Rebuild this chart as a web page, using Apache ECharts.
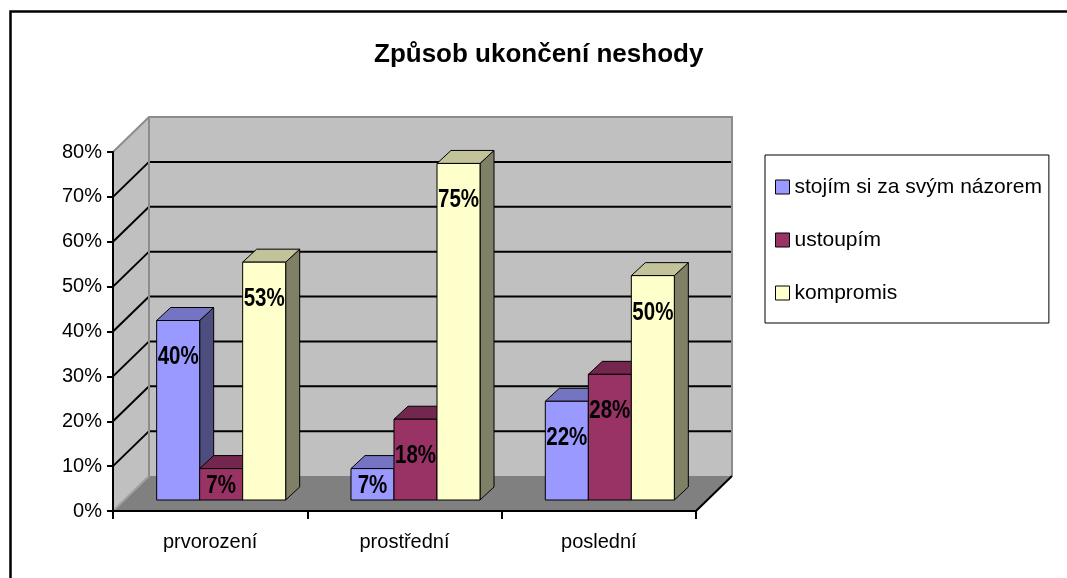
<!DOCTYPE html>
<html>
<head>
<meta charset="utf-8">
<script src="https://cdn.jsdelivr.net/npm/echarts@6/dist/echarts.min.js"></script>
<style>
html,body{margin:0;padding:0;background:#fff;}
#chart{width:1067px;height:578px;}
</style>
</head>
<body>
<div id="chart"></div>
<script>
// ---- data ----
const categories = ['prvorození', 'prostřední', 'poslední'];
const seriesNames = ['stojím si za svým názorem', 'ustoupím', 'kompromis'];
const stojim = [40, 7, 22];
const ustoupim = [7, 18, 28];
const kompromis = [53, 75, 50];
const yTicks = [0, 10, 20, 30, 40, 50, 60, 70, 80];
const titleText = 'Způsob ukončení neshody';

// ---- style ----
const SANS = '"Liberation Sans", Arial, sans-serif';
const colors = ['#9999FF', '#993366', '#FFFFCC'];
const DEPTH = { x: 36, y: -35 };     // wall depth offset
const BOFF = { x: 11, y: -11 };      // bar front-face offset
const BD = { x: 14, y: -13 };        // bar depth
const BAR_FRAC = 0.2213;

function shade(hex, f) {
  const n = parseInt(hex.slice(1), 16);
  const r = Math.round(((n >> 16) & 255) * f), g = Math.round(((n >> 8) & 255) * f), b = Math.round((n & 255) * f);
  return 'rgb(' + r + ',' + g + ',' + b + ')';
}

function barRenderer(k) {
  return function (params, api) {
    const c = api.value(0), v = api.value(1);
    const base = api.coord([c, 0]);
    const top = api.coord([c, v]);
    const band = api.size([1, 0])[0];
    const bw = band * BAR_FRAC;
    const xl = base[0] + BOFF.x + (k - 1.5) * bw;
    const xr = xl + bw;
    const yb = base[1] + BOFF.y;
    const yt = top[1] + BOFF.y;
    const col = colors[k];
    const h = yb - yt;
    const ly = h < 72 ? (yt + yb) / 2 + 2 : yt + 37;
    return {
      type: 'group',
      children: [
        { type: 'polygon', shape: { points: [[xr, yt], [xr + BD.x, yt + BD.y], [xr + BD.x, yb + BD.y], [xr, yb]] },
          style: { fill: shade(col, 0.5), stroke: '#000', lineWidth: 1 } },
        { type: 'polygon', shape: { points: [[xl, yt], [xr, yt], [xr + BD.x, yt + BD.y], [xl + BD.x, yt + BD.y]] },
          style: { fill: shade(col, 0.76), stroke: '#000', lineWidth: 1 } },
        { type: 'rect', shape: { x: xl, y: yt, width: bw, height: h },
          style: { fill: col, stroke: '#000', lineWidth: 1 } },
        { type: 'text', x: (xl + xr) / 2, y: ly, scaleX: 0.82, z2: 10,
          style: { text: v + '%', fill: '#000', font: 'bold 25px ' + SANS, align: 'center', verticalAlign: 'middle' } }
      ]
    };
  };
}

function frameRenderer(params, api) {
  const n = categories.length;
  const band = api.size([1, 0])[0];
  const x0 = api.coord([0, 0])[0] - band / 2;
  const x1 = api.coord([n - 1, 0])[0] + band / 2;
  const yMin = yTicks[0], yMax = yTicks[yTicks.length - 1];
  const y0 = api.coord([0, yMin])[1];
  const yT = api.coord([0, yMax])[1];
  const dx = DEPTH.x, dy = DEPTH.y;
  const children = [
    { type: 'polygon', shape: { points: [[x0, y0], [x0, yT], [x0 + dx, yT + dy], [x0 + dx, y0 + dy]] },
      style: { fill: '#C0C0C0' } },
    { type: 'rect', shape: { x: x0 + dx, y: yT + dy, width: x1 - x0, height: y0 - yT } ,
      style: { fill: '#C0C0C0' } },
    { type: 'polygon', shape: { points: [[x0, y0], [x1, y0], [x1 + dx, y0 + dy], [x0 + dx, y0 + dy]] },
      style: { fill: '#808080' } }
  ];
  yTicks.forEach(function (t) {
    if (t === yMin || t === yMax) return;
    const y = api.coord([0, t])[1];
    children.push({ type: 'polyline', shape: { points: [[x0, y], [x0 + dx, y + dy], [x1 + dx, y + dy]] },
      style: { stroke: '#000', lineWidth: 2, fill: null } });
  });
  children.push({ type: 'polyline', shape: { points: [[x0, yT], [x0 + dx, yT + dy], [x1 + dx, yT + dy], [x1 + dx, y0 + dy]] },
    style: { stroke: '#8C8C8C', lineWidth: 2, fill: null } });
  children.push({ type: 'polyline', shape: { points: [[x0 + dx, yT + dy], [x0 + dx, y0 + dy]] },
    style: { stroke: '#8C8C8C', lineWidth: 2, fill: null } });
  children.push({ type: 'polyline', shape: { points: [[x0, y0], [x0 + dx, y0 + dy]] },
    style: { stroke: '#A0A0A0', lineWidth: 2, fill: null } });
  children.push({ type: 'polyline', shape: { points: [[x1, y0], [x1 + dx, y0 + dy]] },
    style: { stroke: '#000', lineWidth: 2, fill: null } });
  return { type: 'group', children: children };
}

const seriesData = [stojim, ustoupim, kompromis];

const chart = echarts.init(document.getElementById('chart'), null, { renderer: 'canvas' });
const option = {
  animation: false,
  backgroundColor: '#fff',
  title: {
    text: titleText,
    left: 374,
    top: 42,
    padding: 0,
    textStyle: { fontFamily: SANS, fontWeight: 'bold', fontSize: 26, color: '#000' }
  },
  graphic: [
    { type: 'rect', left: 8, top: 9, shape: { width: 1100, height: 620 },
      style: { fill: null, stroke: '#000', lineWidth: 2.5 }, z: 100 }
  ],
  legend: {
    data: seriesNames,
    orient: 'vertical',
    left: 765,
    top: 155,
    padding: [21, 7, 19, 10],
    itemGap: 31,
    itemWidth: 14,
    itemHeight: 14,
    icon: 'rect',
    borderColor: '#000',
    borderWidth: 1,
    backgroundColor: '#fff',
    itemStyle: { borderColor: '#000', borderWidth: 1 },
    textStyle: { fontFamily: SANS, fontSize: 21, color: '#000', lineHeight: 22 }
  },
  grid: { left: 113, top: 152, width: 583, height: 359 },
  xAxis: {
    type: 'category',
    data: categories,
    z: 10,
    axisLine: { lineStyle: { color: '#000', width: 2 } },
    axisTick: { show: true, length: 8, lineStyle: { color: '#000', width: 2 } },
    axisLabel: { fontFamily: SANS, fontSize: 20, color: '#000', margin: 21 },
    splitLine: { show: false }
  },
  yAxis: {
    type: 'value',
    min: yTicks[0],
    max: yTicks[yTicks.length - 1],
    interval: 10,
    z: 10,
    axisLine: { show: true, lineStyle: { color: '#000', width: 2 } },
    axisTick: { show: true, length: 6, lineStyle: { color: '#000', width: 2 } },
    axisLabel: { fontFamily: SANS, fontSize: 20, color: '#000', margin: 11, formatter: '{value}%' },
    splitLine: { show: false }
  },
  series: [
    { type: 'custom', name: '_frame', renderItem: frameRenderer, data: [[0, 0]], clip: false, silent: true, z: 1 }
  ].concat(seriesNames.map(function (name, k) {
    return {
      type: 'custom',
      name: name,
      renderItem: barRenderer(k),
      data: seriesData[k].map(function (v, i) { return [i, v]; }),
      encode: { x: 0, y: 1 },
      itemStyle: { color: colors[k], borderColor: '#000', borderWidth: 1 },
      clip: false,
      z: 2
    };
  }))
};
chart.setOption(option);
</script>
</body>
</html>
